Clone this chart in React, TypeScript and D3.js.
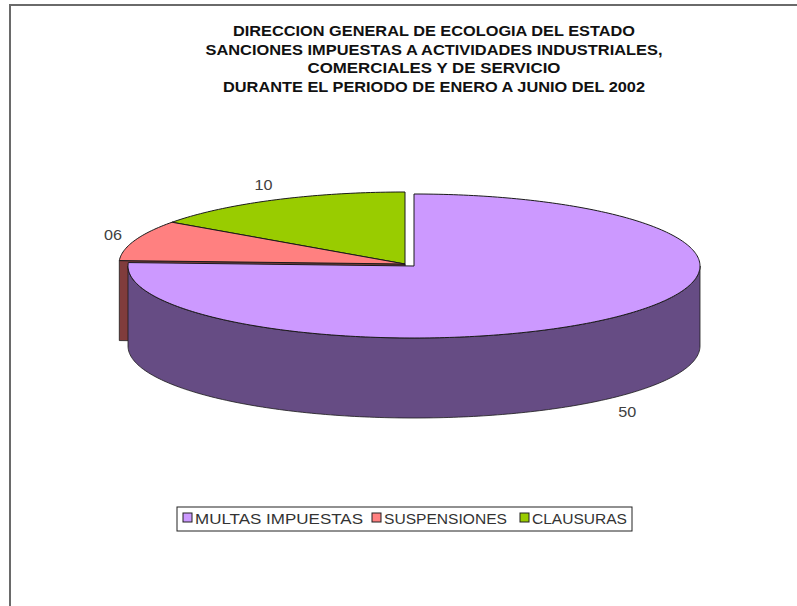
import React from "react";
import * as d3 from "d3";

const titleLines = [
  "DIRECCION GENERAL DE ECOLOGIA DEL ESTADO",
  "SANCIONES IMPUESTAS A ACTIVIDADES INDUSTRIALES,",
  "COMERCIALES Y DE SERVICIO",
  "DURANTE EL PERIODO DE ENERO A JUNIO DEL 2002",
];
const categories = ["MULTAS IMPUESTAS", "SUSPENSIONES", "CLAUSURAS"];
const values = [50, 6, 10];
const topColors = ["#cc99ff", "#ff8080", "#99cc00"];
const sideColors = ["#664c84", "#803c3c", "#4c6600"];

const W = 797;
const H = 606;
const base = { x: 414, y: 266 };
const rx = 286;
const ry = 72;
const depth = 80;
const offsets = [
  [0, 0],
  [-9, -2],
  [-9, -2],
];
const titleWidths = [402, 457, 253, 422];
const legendX = [183, 372, 520];
const legendTextW = [168, 123, 95];

export default function App() {
  const pie = d3
    .pie<number>()
    .sort(null)
    .value((d) => d)
    .startAngle(0)
    .endAngle(2 * Math.PI);
  const arcs = pie(values);
  const line = d3.line();
  const fmt = d3.format("02d");

  const pt = (c: { x: number; y: number }, a: number, dy = 0): [number, number] => [
    c.x + rx * Math.sin(a),
    c.y - ry * Math.cos(a) + dy,
  ];
  const arcPts = (c: any, a0: number, a1: number, dy = 0) => {
    const n = Math.max(2, Math.ceil(((a1 - a0) * 180) / Math.PI));
    const out: [number, number][] = [];
    for (let i = 0; i <= n; i++) out.push(pt(c, a0 + ((a1 - a0) * i) / n, dy));
    return out;
  };

  const slices = arcs.map((a, i) => {
    const c = { x: base.x + offsets[i][0], y: base.y + offsets[i][1] };
    const mid = (a.startAngle + a.endAngle) / 2;
    return { a, i, c, mid };
  });
  const order = [...slices].sort((p, q) => -Math.cos(p.mid) - -Math.cos(q.mid));

  const stroke = "#1a1a1a";

  return (
    <svg
      width={W}
      height={H}
      style={{ position: "absolute", left: 0, top: 0, background: "#fff" }}
      fontFamily="'Liberation Sans', Arial, sans-serif"
    >
      <rect x={0} y={0} width={W} height={H} fill="#fff" />
      <path d={`M${W},5 H10 V${H}`} fill="none" stroke="#6a6a6a" strokeWidth={2} />
      {titleLines.map((t, i) => (
        <text
          key={i}
          x={434}
          y={36 + i * 18.5}
          textAnchor="middle"
          fontWeight="bold"
          fontSize={15}
          fill="#111"
          textLength={titleWidths[i]}
          lengthAdjust="spacingAndGlyphs"
        >
          {t}
        </text>
      ))}
      {order.map(({ a, i, c }) => {
        const s = a.startAngle;
        const e = a.endAngle;
        const faces: JSX.Element[] = [];
        if (Math.sin(s) < -1e-6) {
          const p = pt(c, s);
          faces.push(
            <path
              key="sf"
              d={line([[c.x, c.y], p, [p[0], p[1] + depth], [c.x, c.y + depth]])! + "Z"}
              fill={sideColors[i]}
              stroke={stroke}
              strokeWidth={0.8}
            />
          );
        }
        if (Math.sin(e) > 1e-6) {
          const p = pt(c, e);
          faces.push(
            <path
              key="ef"
              d={line([[c.x, c.y], p, [p[0], p[1] + depth], [c.x, c.y + depth]])! + "Z"}
              fill={sideColors[i]}
              stroke={stroke}
              strokeWidth={0.8}
            />
          );
        }
        const w0 = Math.max(s, Math.PI / 2);
        const w1 = Math.min(e, (3 * Math.PI) / 2);
        if (w0 < w1) {
          const pts = [...arcPts(c, w0, w1), ...arcPts(c, w0, w1, depth).reverse()];
          faces.push(
            <path
              key="wall"
              d={line(pts)! + "Z"}
              fill={sideColors[i]}
              stroke={stroke}
              strokeWidth={0.8}
            />
          );
        }
        const top = [[c.x, c.y] as [number, number], ...arcPts(c, s, e)];
        faces.push(
          <path
            key="top"
            d={line(top)! + "Z"}
            fill={topColors[i]}
            stroke={stroke}
            strokeWidth={1}
            strokeLinejoin="round"
          />
        );
        return <g key={i}>{faces}</g>;
      })}
      {slices.map(({ i, c, mid }) => {
        const lx = c.x + 1.08 * rx * Math.sin(mid);
        const ly = c.y - 1.25 * ry * Math.cos(mid) + (Math.cos(mid) < 0 ? depth : 0);
        return (
          <text
            key={i}
            x={lx}
            y={ly}
            textAnchor="middle"
            dominantBaseline="central"
            fontSize={15}
            fill="#404040"
            textLength={18}
            lengthAdjust="spacingAndGlyphs"
          >
            {fmt(values[i])}
          </text>
        );
      })}
      <rect x={177} y={507} width={455} height={24} fill="#fff" stroke="#222" strokeWidth={1} />
      {categories.map((cat, i) => (
        <g key={cat}>
          <rect
            x={legendX[i]}
            y={513}
            width={9}
            height={9}
            fill={topColors[i]}
            stroke="#222"
            strokeWidth={1}
          />
          <text
            x={legendX[i] + 12}
            y={524}
            fontSize={14}
            fill="#333"
            textLength={legendTextW[i]}
            lengthAdjust="spacingAndGlyphs"
          >
            {cat}
          </text>
        </g>
      ))}
    </svg>
  );
}
